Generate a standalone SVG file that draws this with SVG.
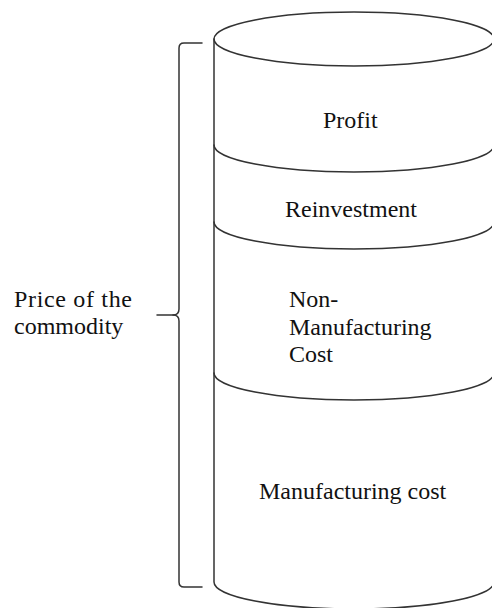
<svg xmlns="http://www.w3.org/2000/svg" width="492" height="608" viewBox="0 0 492 608">
  <style>
    .line { fill: none; stroke: #333; stroke-width: 1.5; stroke-linecap: round; stroke-linejoin: round; }
    .lbl { font-family: "Liberation Serif", "Times New Roman", serif; font-size: 24px; fill: #111; }
  </style>
  <rect x="0" y="0" width="492" height="608" fill="#fff"/>

  <!-- cylinder body: left wall, top ellipse and bottom rim -->
  <g id="cylinder">
    <path class="line" d="M214,39 V582 A140,27 0 0 0 494,582 V39"/>
    <ellipse class="line" cx="354" cy="39" rx="140" ry="27"/>
  </g>

  <!-- layer separators (front rims) -->
  <g id="separators">
    <path class="line" d="M214,145 A140,27 0 0 0 494,145"/>
    <path class="line" d="M214,222 A140,27 0 0 0 494,222"/>
    <path class="line" d="M214,373 A140,27 0 0 0 494,373"/>
  </g>

  <g id="profit">
    <text class="lbl" x="323" y="128">Profit</text>
  </g>
  <g id="reinvestment">
    <text class="lbl" x="285" y="217">Reinvestment</text>
  </g>
  <g id="non-manufacturing">
    <text class="lbl" x="289" y="307">Non-</text>
    <text class="lbl" x="289" y="335">Manufacturing</text>
    <text class="lbl" x="289" y="362">Cost</text>
  </g>
  <g id="manufacturing">
    <text class="lbl" x="259" y="499">Manufacturing cost</text>
  </g>

  <!-- brace spanning the whole cylinder -->
  <g id="brace">
    <path class="line" d="M202,43 H184 Q179,43 179,48 V309 Q179,315 173,315 H157"/>
    <path class="line" d="M173,315 Q179,315 179,321 V582 Q179,587 184,587 H202"/>
  </g>
  <g id="price">
    <text class="lbl" x="14" y="307" textLength="118" lengthAdjust="spacing">Price of the</text>
    <text class="lbl" x="14" y="334">commodity</text>
  </g>
</svg>
